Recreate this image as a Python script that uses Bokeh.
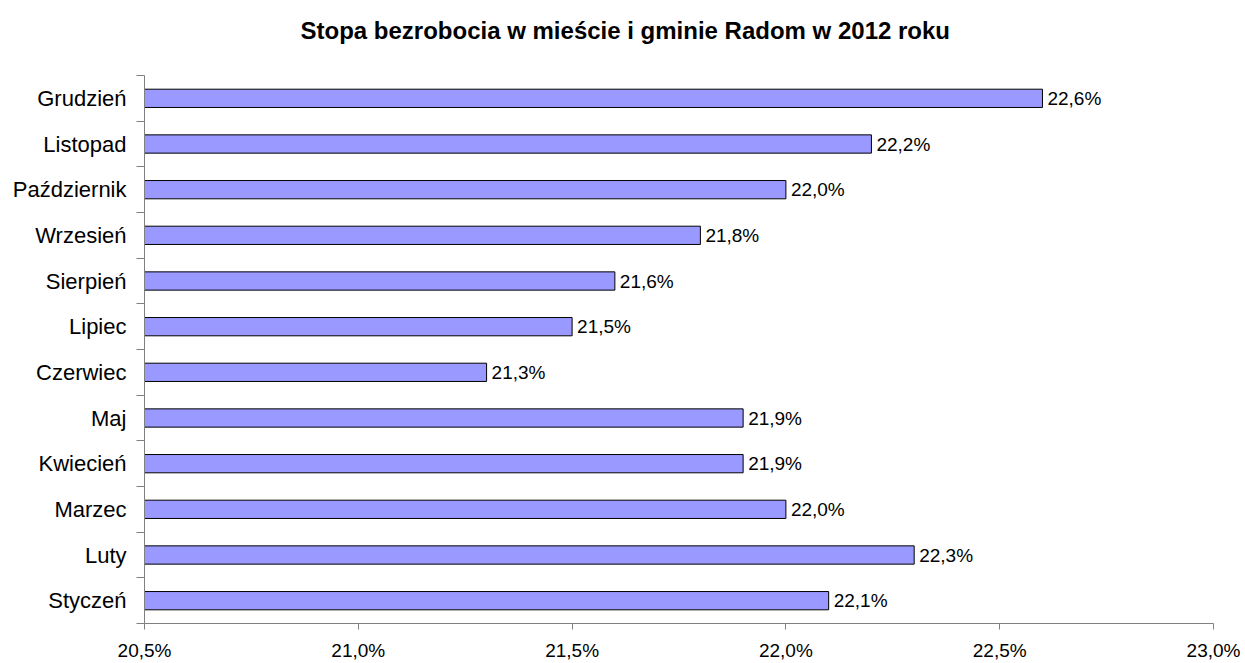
from bokeh.plotting import figure
from bokeh.models import FixedTicker, Range1d, ColumnDataSource, LabelSet, Title
from bokeh.core.properties import value
from bokeh.embed import file_html
from bokeh.resources import INLINE

categories = ["Styczeń", "Luty", "Marzec", "Kwiecień", "Maj", "Czerwiec",
              "Lipiec", "Sierpień", "Wrzesień", "Październik", "Listopad", "Grudzień"]
values = [22.1, 22.3, 22.0, 21.9, 21.9, 21.3, 21.5, 21.6, 21.8, 22.0, 22.2, 22.6]
x_ticks = [20.5, 21.0, 21.5, 22.0, 22.5, 23.0]
x_tick_labels = ["20,5%", "21,0%", "21,5%", "22,0%", "22,5%", "23,0%"]
title_text = "Stopa bezrobocia w mieście i gminie Radom w 2012 roku"

FONT = "Liberation Sans"
X_START, X_END = x_ticks[0], x_ticks[-1]

idx = list(range(len(categories)))
src = ColumnDataSource(dict(
    y=idx,
    v=values,
    left=[X_START] * len(values),
    txt=[f"{v:.1f}%".replace(".", ",") for v in values],
))

p = figure(width=1245, height=663, output_backend="svg", toolbar_location=None,
           x_range=Range1d(X_START, X_END), y_range=Range1d(-0.5, len(categories) - 0.5),
           min_border_left=144, min_border_right=32, min_border_top=75, min_border_bottom=38)

p.title.text = title_text
p.title.text_font = FONT
p.title.text_font_size = "24px"
p.title.text_font_style = "bold"
p.title.text_color = "black"
p.title.align = "left"
p.title.offset = 156
p.title.standoff = 2

# invisible spacer between title and frame
spacer = Title(text="\u200b", text_font=FONT, text_font_size="24px", standoff=2)
p.add_layout(spacer, "above")

p.hbar(y="y", left="left", right="v", height=0.4, source=src,
       fill_color="#9999FF", line_color="black", line_width=1)

labels = LabelSet(x="v", y="y", text="txt", source=src, x_offset=5,
                  text_baseline="middle", text_align="left",
                  text_font=value(FONT), text_font_size="19px", text_color="black")
p.add_layout(labels)

p.grid.visible = False
p.outline_line_color = None
p.background_fill_color = "white"
p.border_fill_color = "white"

xa = p.xaxis[0]
xa.ticker = FixedTicker(ticks=x_ticks)
xa.major_label_overrides = {t: l for t, l in zip(x_ticks, x_tick_labels)}
xa.axis_line_color = "#808080"
xa.major_tick_line_color = "#808080"
xa.major_tick_in = 0
xa.major_tick_out = 6
xa.minor_tick_line_color = None
xa.major_label_standoff = 10
xa.major_label_text_font = FONT
xa.major_label_text_font_size = "19px"
xa.major_label_text_color = "black"

ya = p.yaxis[0]
ya.ticker = FixedTicker(ticks=idx, minor_ticks=[i - 0.5 for i in range(len(categories) + 1)])
ya.major_label_overrides = {i: c for i, c in enumerate(categories)}
ya.axis_line_color = "#808080"
ya.major_tick_line_color = None
ya.major_tick_in = 0
ya.major_tick_out = 8
ya.minor_tick_line_color = "#808080"
ya.minor_tick_in = 0
ya.minor_tick_out = 8
ya.major_label_standoff = 10
ya.major_label_text_font = FONT
ya.major_label_text_font_size = "22px"
ya.major_label_text_color = "black"

open("out.html", "w").write(file_html(p, INLINE))
